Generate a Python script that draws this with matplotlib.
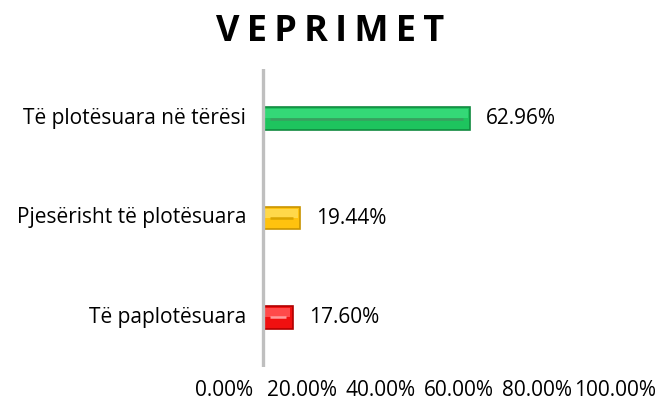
import matplotlib
matplotlib.use("Agg")
import matplotlib.pyplot as plt

categories = ["Të paplotësuara", "Pjesërisht të plotësuara", "Të plotësuara në tërësi"]
values = [17.60, 19.44, 62.96]
colors = ["#f01010", "#ffc20e", "#1ec45e"]
highlights = ["#ff4a4a", "#ffd84a", "#34d877"]
edges = ["#b00000", "#c89400", "#118a40"]
inner = ["#ff9a9a", "#d9a400", "#3a9e60"]
ticks = [0, 20, 40, 60, 80, 100]
tick_labels = ["0.00%", "20.00%", "40.00%", "60.00%", "80.00%", "100.00%"]
base = 10  # where the value axis crosses

plt.rcParams["font.family"] = ["Open Sans", "DejaVu Sans"]

fig = plt.figure(figsize=(6.61, 4.07), dpi=100)
ax = fig.add_axes([224 / 661, 40 / 407, 391 / 661, 298 / 407])

y = list(range(len(categories)))
widths = [v - base for v in values]
ax.barh(y, widths, left=base, height=0.23, color=colors, edgecolor=edges, linewidth=1.2, zorder=2)
# lighter upper face of the bevelled bars
ax.barh([i + 0.05 for i in y], [w - 1.2 for w in widths], left=base + 0.6, height=0.09,
        color=highlights, linewidth=0, zorder=2.5)
ax.hlines(y, [base + 1.8] * len(y), [v - 1.8 for v in values], colors=inner, linewidth=1.8, zorder=3)
ax.axvline(base, color="#bfbfbf", linewidth=2.4, zorder=4)

for i, v in enumerate(values):
    ax.annotate(f"{v:.2f}%", (v, i), xytext=(16, 0), textcoords="offset pixels",
                ha="left", va="center", fontsize=15)
    ax.annotate(categories[i], (base, i), xytext=(-17, 0), textcoords="offset pixels",
                ha="right", va="center", fontsize=15)

ax.set_xlim(0, 100)
ax.set_ylim(-0.5, 2.5)
ax.set_xticks(ticks)
ax.set_xticklabels(tick_labels, fontsize=15)
ax.set_yticks([])
ax.tick_params(axis="x", length=0, pad=9)
for s in ax.spines.values():
    s.set_visible(False)

fig.text(0.499, 1 - 32 / 407, "\u2009".join("VEPRIMET"), ha="center", va="center",
         fontsize=26, fontweight="bold")

fig.savefig("out.png", dpi=100)
